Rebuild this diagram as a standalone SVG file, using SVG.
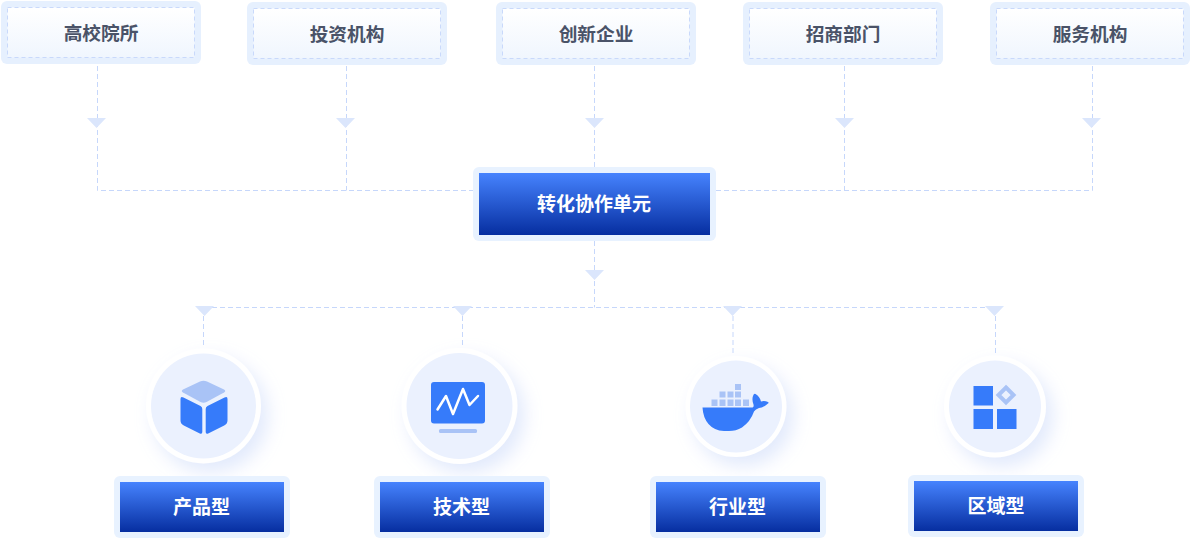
<svg xmlns="http://www.w3.org/2000/svg" width="1191" height="539" viewBox="0 0 1191 539">
<style>
text{font-family:"Noto Sans CJK SC","Noto Sans",sans-serif;text-anchor:middle;dominant-baseline:central}
.t{font-size:18.700px;font-weight:700;fill:#4a5368}
.w{font-size:19px;font-weight:700;fill:#fff}
.o{fill:#e6f0fe}
.wrap{fill:#e8f2ff}
.in{fill:url(#g1);stroke:#c9d9fb;stroke-dasharray:4 3}
.b{fill:url(#g2)}
.l{fill:none;stroke:#c6d7fb;stroke-dasharray:5 3}
.a{fill:#dbe6fc}
.c{fill:#ebf1fe}
.ring{fill:#fff;filter:url(#s)}
.ic{fill:#367bfa}
.il{fill:#a9c3f6}
</style>
<defs>
<linearGradient id="g1" x1="0" y1="0" x2="0" y2="1"><stop offset="0" stop-color="#ffffff"/><stop offset="1" stop-color="#f0f6fe"/></linearGradient>
<linearGradient id="g2" x1="0" y1="0" x2="0" y2="1"><stop offset="0" stop-color="#4683fe"/><stop offset="1" stop-color="#062ea0"/></linearGradient>
<filter id="s" x="-40%" y="-40%" width="190%" height="190%"><feDropShadow dx="7" dy="9" stdDeviation="9" flood-color="#b9cdf8" flood-opacity="0.42"/></filter>
</defs>
<g id="connectors">
<path class="l" d="M97.500 66V190.500H473M346.500 66V190.500M594.500 66V167M844.500 66V190.500M1092.500 66V190.500H716"/>
<path class="l" d="M594.500 241V307.500M204 307.500H995M203.500 316V347M462.500 316V348M733 316V356M995.500 316V356"/>
<path class="a" d="M87 118h19l-9.500 10zM336 118h19l-9.500 10zM585 118h19l-9.500 10zM835 118h19l-9.500 10zM1082 118h19l-9.500 10zM585 270h19l-9.500 10zM195 306h19l-9.500 10zM453 306h19l-9.500 10zM723 306h19l-9.500 10zM985 306h19l-9.500 10z"/>
</g>
<g id="n1"><rect class="o" x="1" y="1" width="200" height="63" rx="6"/><rect class="in" x="7.500" y="7.500" width="187" height="50"/><text class="t" x="101" y="31.500">高校院所</text></g>
<g id="n2"><rect class="o" x="247" y="2" width="200" height="63" rx="6"/><rect class="in" x="253.500" y="8.500" width="187" height="50"/><text class="t" x="347" y="32.500">投资机构</text></g>
<g id="n3"><rect class="o" x="496" y="2" width="200" height="63" rx="6"/><rect class="in" x="502.500" y="8.500" width="187" height="50"/><text class="t" x="596" y="32.500">创新企业</text></g>
<g id="n4"><rect class="o" x="743" y="2" width="200" height="63" rx="6"/><rect class="in" x="749.500" y="8.500" width="187" height="50"/><text class="t" x="843" y="32.500">招商部门</text></g>
<g id="n5"><rect class="o" x="990" y="2" width="200" height="63" rx="6"/><rect class="in" x="996.500" y="8.500" width="187" height="50"/><text class="t" x="1090" y="32.500">服务机构</text></g>
<g id="center"><rect class="wrap" x="473" y="167" width="243" height="74" rx="6"/><rect class="b" x="479" y="173" width="231" height="62"/><text class="w" x="594" y="202.500">转化协作单元</text></g>
<g id="cat1">
<circle class="ring" cx="203.500" cy="406" r="57.500"/><circle class="c" cx="203.500" cy="406" r="52.500"/>
<path class="il" d="M200 381.500q3.500-1.500 7 0l17 8q2.500 1.500 0 3l-17.500 9.500q-3 1.500-6 0l-17.500-9.500q-2.500-1.500 0-3z"/>
<path class="ic" d="M180.500 399q0-3 3-1.500l17 8.500q1.800 1 1.800 3v23q0 2.500-2.500 1.500l-16-8q-3.300-1.700-3.300-5zM227.500 399q0-3-3-1.500l-17 8.500q-1.800 1-1.800 3v23q0 2.500 2.500 1.500l16-8q3.300-1.700 3.300-5z"/>
</g>
<g id="cat2">
<circle class="ring" cx="459.500" cy="406" r="58"/><circle class="c" cx="459.500" cy="406" r="53"/>
<rect class="ic" x="431" y="382" width="54" height="41.500" rx="3"/>
<rect class="il" x="439" y="429" width="38" height="4" rx="1.500"/>
<path d="M437.500 409.500l8.500-13.500 7 18 10-25 6.500 16 8.500-9" fill="none" stroke="#fff" stroke-width="2.500" stroke-linejoin="round" stroke-linecap="round"/>
</g>
<g id="cat3">
<circle class="ring" cx="736" cy="406.500" r="50.500"/><circle class="c" cx="736" cy="406.500" r="46"/>
<path class="il" d="M711.500 399.500h6v6.500h-6zM719.500 399.500h6v6.500h-6zM727.500 399.500h6v6.500h-6zM735 399.500h6v6.500h-6zM743 399.500h6v6.500h-6zM719.500 391.500h6v6h-6zM727.500 391.500h6v6h-6zM735 391.500h6v6h-6zM735 384h6v6h-6z"/>
<path class="ic" d="M704 407.500H752.500q1.500-.5 1-3-1.800-5-.5-8.500 1-3 2.500-2 4 2 5.500 7.500 3.500-1 7 .5 1 .7 0 1.500-3.500 3.500-9 4.500-3.500 1-5 3.500-3.500 10-12 16-6 3.500-13 3.500h-5q-10-.5-15.500-7-5.500-6.500-6-16.500z"/>
</g>
<g id="cat4">
<circle class="ring" cx="995" cy="406.500" r="51"/><circle class="c" cx="995" cy="406.500" r="46"/>
<rect class="ic" x="973.500" y="386" width="19.500" height="19.500"/><rect class="ic" x="973.500" y="409" width="19.500" height="20"/><rect class="ic" x="997" y="409" width="19.500" height="20"/>
<path d="M1006 387.500l7.500 7.500-7.500 7.500-7.500-7.500z" fill="none" stroke="#a9c3f6" stroke-width="4"/>
</g>
<g id="l1"><rect class="wrap" x="114" y="476" width="176" height="62" rx="6"/><rect class="b" x="120" y="482" width="164" height="50"/><text class="w" x="201.500" y="505">产品型</text></g>
<g id="l2"><rect class="wrap" x="374" y="476" width="176" height="62" rx="6"/><rect class="b" x="380" y="482" width="164" height="50"/><text class="w" x="461.500" y="505">技术型</text></g>
<g id="l3"><rect class="wrap" x="650" y="476" width="176" height="62" rx="6"/><rect class="b" x="656" y="482" width="164" height="50"/><text class="w" x="737.500" y="505">行业型</text></g>
<g id="l4"><rect class="wrap" x="908" y="475" width="176" height="62" rx="6"/><rect class="b" x="914" y="481" width="164" height="50"/><text class="w" x="996" y="504">区域型</text></g>
</svg>
